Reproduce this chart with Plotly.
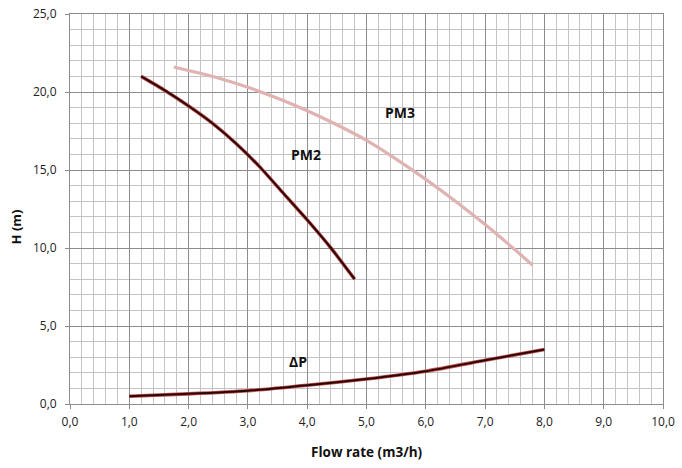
import plotly.graph_objects as go

# PM2 pump curve
pm2_q = [1.2, 1.6, 2.0, 2.4, 2.8, 3.2, 3.6, 4.0, 4.4, 4.8]
pm2_h = [21.0, 20.1, 19.1, 18.0, 16.7, 15.2, 13.5, 11.8, 10.0, 8.0]

# PM3 pump curve
pm3_q = [1.75, 2.5, 3.0, 3.5, 4.0, 4.5, 5.0, 5.5, 6.0, 6.5, 7.0, 7.5, 7.8]
pm3_h = [21.6, 20.9, 20.3, 19.6, 18.8, 17.9, 16.9, 15.7, 14.4, 13.0, 11.5, 9.9, 8.9]

# Pressure drop curve
dp_q = [1.0, 2.0, 3.0, 4.0, 5.0, 6.0, 7.0, 8.0]
dp_h = [0.5, 0.65, 0.85, 1.2, 1.6, 2.1, 2.8, 3.5]

labels = ["PM3", "PM2", "ΔP"]
label_x = [5.56, 3.98, 3.85]
label_y = [18.7, 16.0, 2.75]

x_title = "Flow rate (m3/h)"
y_title = "H (m)"

font_family = "Open Sans, Liberation Sans, sans-serif"

fig = go.Figure()

# PM3: light pink line
fig.add_trace(go.Scatter(x=pm3_q, y=pm3_h, mode="lines",
                         line=dict(color="#dfb3b1", width=3.2, shape="spline", smoothing=0.6),
                         hoverinfo="skip"))
# PM2 and dP: red halo with dark core
for q, h in [(pm2_q, pm2_h), (dp_q, dp_h)]:
    fig.add_trace(go.Scatter(x=q, y=h, mode="lines",
                             line=dict(color="#c0504d", width=3.6, shape="spline", smoothing=0.6),
                             hoverinfo="skip"))
    fig.add_trace(go.Scatter(x=q, y=h, mode="lines",
                             line=dict(color="#2a0606", width=2, shape="spline", smoothing=0.6),
                             hoverinfo="skip"))

for t, x, y in zip(labels, label_x, label_y):
    fig.add_annotation(x=x, y=y, text="<b>%s</b>" % t, showarrow=False,
                       font=dict(size=14, color="#111111", family=font_family))

# axis titles
fig.add_annotation(xref="paper", yref="paper", x=0.5, y=-0.123,
                   text="<b>%s</b>" % x_title, showarrow=False,
                   xanchor="center", yanchor="middle",
                   font=dict(size=13.5, color="#111111", family=font_family))
fig.add_annotation(xref="paper", yref="paper", x=-0.092, y=0.454,
                   text="<b>%s</b>" % y_title, showarrow=False, textangle=-90,
                   xanchor="center", yanchor="middle",
                   font=dict(size=13, color="#111111", family=font_family))

major = "#8c8c8c"
minor = "#c4c4c4"

fig.update_layout(
    width=682, height=468,
    margin=dict(l=70, r=19, t=14, b=64, autoexpand=False),
    paper_bgcolor="white", plot_bgcolor="white",
    showlegend=False,
    separators=",.",
    font=dict(family=font_family, size=12, color="#222222"),
    xaxis=dict(range=[0, 10], dtick=1, tick0=0, tickformat=".1f",
               showgrid=True, gridcolor=major, gridwidth=1,
               minor=dict(dtick=0.2, tick0=0, showgrid=True, gridcolor=minor, gridwidth=1),
               showline=True, linecolor=major, linewidth=1, mirror=True,
               ticks="outside", ticklen=4, tickcolor=major,
               ticklabeloverflow="allow", ticklabelstandoff=3,
               zeroline=False, automargin=False),
    yaxis=dict(range=[0, 25], dtick=5, tick0=0, tickformat=".1f",
               showgrid=True, gridcolor=major, gridwidth=1,
               minor=dict(dtick=1, tick0=0, showgrid=True, gridcolor=minor, gridwidth=1),
               showline=True, linecolor=major, linewidth=1, mirror=True,
               ticks="outside", ticklen=4, tickcolor=major,
               ticklabeloverflow="allow", ticklabelstandoff=6,
               zeroline=False, automargin=False),
)

# remove the default page margin so the figure fills the window exactly
fig.write_html("out.html",
               config={"displayModeBar": False, "staticPlot": True},
               post_script="document.body.style.margin='0';document.body.style.overflow='hidden';")
